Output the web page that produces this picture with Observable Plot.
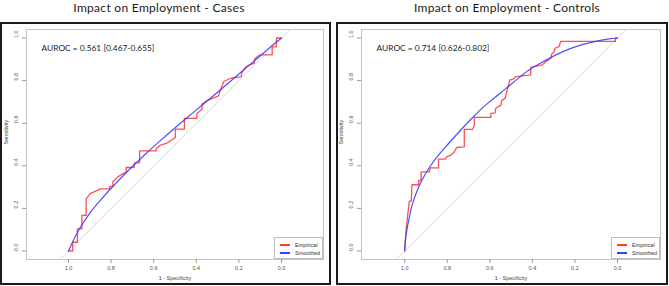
<!DOCTYPE html>
<html>
<head>
<meta charset="utf-8">
<script src="https://cdn.jsdelivr.net/npm/d3@7"></script>
<script src="https://cdn.jsdelivr.net/npm/@observablehq/plot@0.6"></script>
<style>
  html, body { margin: 0; padding: 0; background: #fff; }
  body { width: 669px; height: 286px; position: relative; overflow: hidden; font-family: Lato, "Open Sans", sans-serif; }
  .title { position: absolute; top: 0; width: 240px; text-align: center; font-size: 12px; line-height: normal; color: #1a1a1a; white-space: nowrap; letter-spacing: 0.3px; }
  .frame { position: absolute; top: 22px; height: 263px; border: 2px solid #1a1a1a; box-sizing: border-box; pointer-events: none; }
  .panel { position: absolute; top: 22px; }
  .panel svg { display: block; overflow: visible; }
  .legend { position: absolute; box-sizing: border-box; border: 1px solid #bdbdbd; background: #fff; font-family: "Liberation Sans", Arial, sans-serif; font-size: 5.5px; color: #333; }
  .legend .row { position: absolute; left: 0; height: 6px; line-height: 6px; white-space: nowrap; }
  .legend .sw { position: absolute; left: 5px; top: 2px; width: 10px; height: 1.6px; }
  .legend .lab { position: absolute; left: 20px; top: 0; }
</style>
</head>
<body>
<script>
// ---- data ----
const titles = ["Impact on Employment - Cases", "Impact on Employment - Controls"];
const aurocLabels = ["AUROC = 0.561 [0.467-0.655]", "AUROC = 0.714 [0.626-0.802]"];
const legendLabels = ["Empirical", "Smoothed"];
const xTicks = [1.0, 0.8, 0.6, 0.4, 0.2, 0.0];
const yTicks = [0.0, 0.2, 0.4, 0.6, 0.8, 1.0];
const xLabel = "1 - Specificity";
const yLabel = "Sensitivity";

// Cases: empirical ROC (specificity, sensitivity)
const casesEmpSpec = [1.000, 0.980, 0.980, 0.958, 0.958, 0.937, 0.937, 0.917, 0.917, 0.898, 0.875, 0.851, 0.807, 0.807, 0.792, 0.792, 0.770, 0.749, 0.729, 0.729, 0.691, 0.691, 0.666, 0.666, 0.588, 0.588, 0.569, 0.541, 0.498, 0.498, 0.456, 0.456, 0.397, 0.397, 0.373, 0.373, 0.350, 0.295, 0.290, 0.271, 0.240, 0.188, 0.188, 0.169, 0.149, 0.127, 0.127, 0.102, 0.044, 0.044, 0.024, 0.024, 0.000];
const casesEmpSens = [0.000, 0.000, 0.041, 0.041, 0.104, 0.104, 0.167, 0.167, 0.245, 0.269, 0.280, 0.292, 0.292, 0.303, 0.303, 0.324, 0.347, 0.360, 0.371, 0.392, 0.392, 0.414, 0.414, 0.470, 0.470, 0.481, 0.497, 0.505, 0.533, 0.572, 0.572, 0.623, 0.623, 0.646, 0.665, 0.690, 0.706, 0.728, 0.748, 0.796, 0.811, 0.819, 0.835, 0.863, 0.874, 0.882, 0.901, 0.921, 0.921, 0.958, 0.958, 1.000, 1.000];
// Cases: smoothed ROC
const casesSmSpec = [1.000, 0.989, 0.973, 0.953, 0.929, 0.898, 0.859, 0.804, 0.726, 0.647, 0.569, 0.491, 0.412, 0.334, 0.256, 0.177, 0.099, 0.052, 0.000];
const casesSmSens = [0.000, 0.025, 0.057, 0.096, 0.135, 0.180, 0.228, 0.290, 0.371, 0.447, 0.518, 0.586, 0.652, 0.717, 0.783, 0.851, 0.917, 0.958, 1.000];

// Controls: empirical ROC
const controlsEmpSpec = [1.000, 0.994, 0.986, 0.978, 0.969, 0.966, 0.934, 0.934, 0.923, 0.923, 0.884, 0.880, 0.841, 0.841, 0.809, 0.803, 0.783, 0.767, 0.756, 0.720, 0.720, 0.681, 0.673, 0.673, 0.595, 0.595, 0.575, 0.572, 0.548, 0.544, 0.528, 0.506, 0.491, 0.478, 0.408, 0.408, 0.353, 0.330, 0.314, 0.309, 0.298, 0.294, 0.275, 0.267, 0.010, 0.010, 0.000];
const controlsEmpSens = [0.000, 0.096, 0.167, 0.234, 0.234, 0.311, 0.311, 0.332, 0.332, 0.371, 0.371, 0.390, 0.390, 0.431, 0.431, 0.442, 0.450, 0.465, 0.486, 0.489, 0.571, 0.571, 0.591, 0.627, 0.627, 0.646, 0.649, 0.670, 0.685, 0.706, 0.717, 0.803, 0.806, 0.819, 0.827, 0.862, 0.874, 0.894, 0.905, 0.925, 0.936, 0.952, 0.960, 0.984, 0.984, 1.000, 1.000];
// Controls: smoothed ROC
const controlsSmSpec = [1.000, 0.997, 0.989, 0.978, 0.963, 0.944, 0.919, 0.884, 0.845, 0.798, 0.744, 0.681, 0.619, 0.556, 0.494, 0.416, 0.338, 0.259, 0.181, 0.103, 0.041, 0.000];
const controlsSmSens = [0.000, 0.048, 0.103, 0.159, 0.222, 0.277, 0.332, 0.392, 0.445, 0.500, 0.560, 0.627, 0.686, 0.737, 0.788, 0.850, 0.895, 0.935, 0.964, 0.984, 0.996, 1.000];

// chance diagonal end points (specificity); sensitivity = 1 - specificity
const diagSpec = [1.05, -0.05];

// ---- drawing ----
const RED = "#ff3c3c";
const BLUE = "#3c3cff";
const fmt = d3.format(".1f");

function rows(spec, sens) { return spec.map((s, i) => ({spec: s, sens: sens[i]})); }

function panelPlot(cfg) {
  const emp = rows(cfg.empSpec, cfg.empSens);
  const sm = rows(cfg.smSpec, cfg.smSens);
  const diag = diagSpec.map(s => ({spec: s, sens: 1 - s}));
  return Plot.plot({
    width: cfg.width,
    height: 264,
    marginLeft: cfg.marginLeft,
    marginRight: cfg.marginRight,
    marginTop: 7,
    marginBottom: 27,
    x: {domain: cfg.xDomain},
    y: {domain: [-0.04, 1.04]},
    style: {fontFamily: "'Liberation Sans', Arial, sans-serif", background: "transparent", overflow: "visible"},
    marks: [
      Plot.frame({stroke: "#c4c4c4"}),
      Plot.line(diag, {x: "spec", y: "sens", stroke: "#d2d2d2", strokeWidth: 0.9, clip: true}),
      Plot.line(emp, {x: "spec", y: "sens", stroke: RED, strokeWidth: 1.3, strokeOpacity: 0.9}),
      Plot.line(sm, {x: "spec", y: "sens", stroke: BLUE, strokeWidth: 1.2, strokeOpacity: 0.9, curve: "catmull-rom"}),
      Plot.axisX({ticks: xTicks, tickSize: 4, tickPadding: 3, tickFormat: fmt, fontSize: 5.5, stroke: "#999", fill: "#555", label: null}),
      Plot.axisY({ticks: yTicks, tickSize: 4, tickFormat: () => "", stroke: "#999", label: null}),
      Plot.text(yTicks, {y: d => d, text: d => fmt(d), frameAnchor: "left", dx: -10, rotate: -90, fontSize: 5.5, fill: "#555"}),
      Plot.text([xLabel], {text: d => d, frameAnchor: "bottom", dy: 20, fontSize: 5.5, fill: "#444"}),
      Plot.text([yLabel], {text: d => d, frameAnchor: "left", dx: -20, rotate: -90, fontSize: 5.5, fill: "#444"}),
      Plot.text([cfg.auroc], {text: d => d, frameAnchor: "top-left", dx: 15, dy: 16, textAnchor: "start", fontSize: 8.4, fontFamily: "Lato, 'Open Sans', sans-serif", fill: "#1a1a1a"})
    ]
  });
}

function addDiv(cls, style, html) {
  const d = document.createElement("div");
  d.className = cls;
  Object.assign(d.style, style);
  if (html != null) d.innerHTML = html;
  document.body.appendChild(d);
  return d;
}

function legend(left, top, width, height) {
  const lg = addDiv("legend", {left: left + "px", top: top + "px", width: width + "px", height: height + "px"});
  [RED, BLUE].forEach((c, i) => {
    const r = document.createElement("div");
    r.className = "row";
    r.style.top = (4 + i * 8) + "px";
    r.innerHTML = `<span class="sw" style="background:${c}"></span><span class="lab">${legendLabels[i]}</span>`;
    lg.appendChild(r);
  });
}

const panels = [
  {left: 0, width: 333, marginLeft: 26, marginRight: 10, xDomain: [1.197, -0.197],
   empSpec: casesEmpSpec, empSens: casesEmpSens, smSpec: casesSmSpec, smSens: casesSmSens,
   auroc: aurocLabels[0], title: titles[0], titleCenter: 159,
   frameLeft: 0, frameWidth: 331, legendLeft: 274},
  {left: 335, width: 334, marginLeft: 26, marginRight: 9, xDomain: [1.203, -0.202],
   empSpec: controlsEmpSpec, empSens: controlsEmpSens, smSpec: controlsSmSpec, smSens: controlsSmSens,
   auroc: aurocLabels[1], title: titles[1], titleCenter: 507,
   frameLeft: 336, frameWidth: 332, legendLeft: 611}
];

panels.forEach(p => {
  addDiv("title", {left: (p.titleCenter - 120) + "px"}, p.title);
  const holder = addDiv("panel", {left: p.left + "px"});
  holder.appendChild(panelPlot(p));
  addDiv("frame", {left: p.frameLeft + "px", width: p.frameWidth + "px"});
  legend(p.legendLeft, 237, (p.left + p.width - p.marginRight) - p.legendLeft, 22);
});
</script>
</body>
</html>
